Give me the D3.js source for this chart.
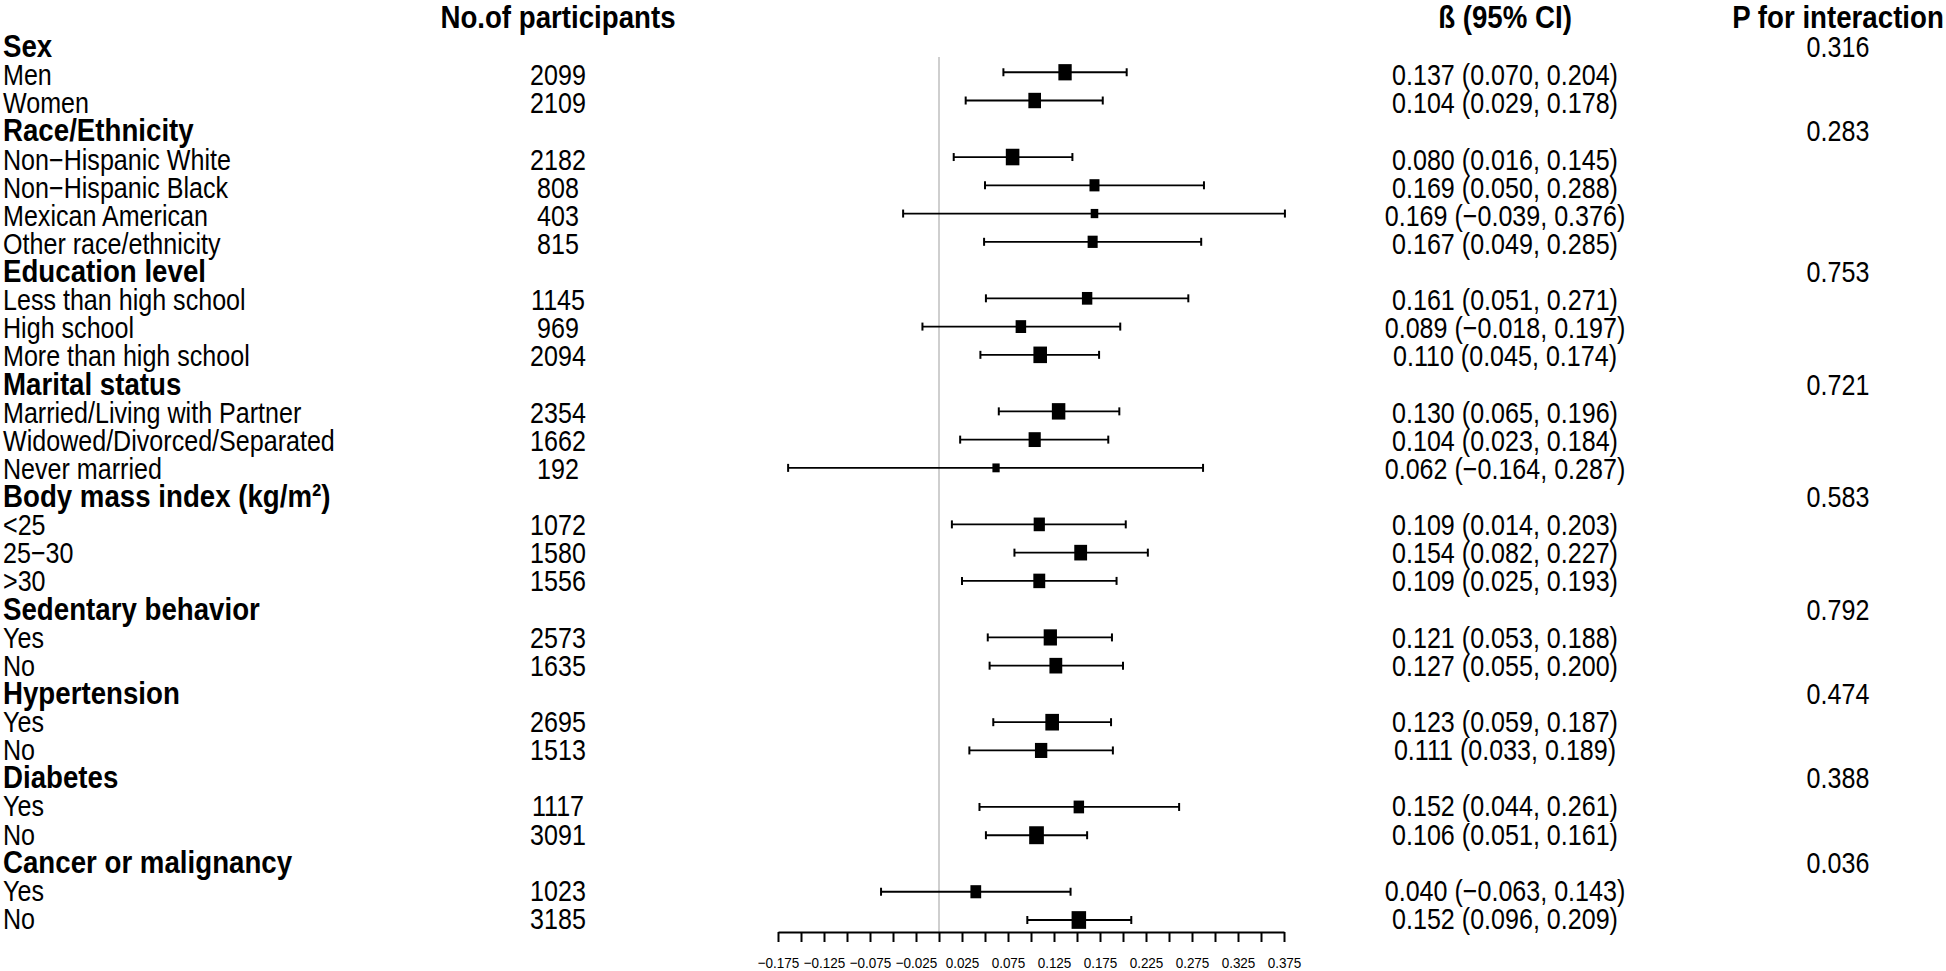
<!DOCTYPE html>
<html>
<head>
<meta charset="utf-8">
<script src="https://cdn.jsdelivr.net/npm/d3@7"></script>
<style>
  body { margin: 0; background: #fff; }
  svg text { font-family: "Liberation Sans", Arial, Helvetica, sans-serif; fill: #000; }
</style>
</head>
<body>
<div id="chart"></div>
<script>
// subgroup headers and their interaction p values
const groupNames = ["Sex", "Race/Ethnicity", "Education level", "Marital status",
  "Body mass index (kg/m²)", "Sedentary behavior", "Hypertension", "Diabetes", "Cancer or malignancy"];
const groupP = ["0.316", "0.283", "0.753", "0.721", "0.583", "0.792", "0.474", "0.388", "0.036"];

const subgroupLabels = [
  ["Men", "Women"],
  ["Non−Hispanic White", "Non−Hispanic Black", "Mexican American", "Other race/ethnicity"],
  ["Less than high school", "High school", "More than high school"],
  ["Married/Living with Partner", "Widowed/Divorced/Separated", "Never married"],
  ["<25", "25−30", ">30"],
  ["Yes", "No"],
  ["Yes", "No"],
  ["Yes", "No"],
  ["Yes", "No"]
];

// one value per subgroup row, in order
const participants = [2099, 2109, 2182, 808, 403, 815, 1145, 969, 2094, 2354, 1662, 192,
  1072, 1580, 1556, 2573, 1635, 2695, 1513, 1117, 3091, 1023, 3185];
const beta = [0.137, 0.104, 0.080, 0.169, 0.169, 0.167, 0.161, 0.089, 0.110, 0.130, 0.104, 0.062,
  0.109, 0.154, 0.109, 0.121, 0.127, 0.123, 0.111, 0.152, 0.106, 0.040, 0.152];
const lower = [0.070, 0.029, 0.016, 0.050, -0.039, 0.049, 0.051, -0.018, 0.045, 0.065, 0.023, -0.164,
  0.014, 0.082, 0.025, 0.053, 0.055, 0.059, 0.033, 0.044, 0.051, -0.063, 0.096];
const upper = [0.204, 0.178, 0.145, 0.288, 0.376, 0.285, 0.271, 0.197, 0.174, 0.196, 0.184, 0.287,
  0.203, 0.227, 0.193, 0.188, 0.200, 0.187, 0.189, 0.261, 0.161, 0.143, 0.209];

// x axis ticks (every other one gets a label)
const tickValues = [-0.175, -0.15, -0.125, -0.1, -0.075, -0.05, -0.025, 0, 0.025, 0.05, 0.075, 0.1,
  0.125, 0.15, 0.175, 0.2, 0.225, 0.25, 0.275, 0.3, 0.325, 0.35, 0.375];

const width = 1946;
const height = 971;
const sx = 0.865; // glyphs in the source are horizontally squeezed

// flatten into table rows
const rows = [];
let k = 0;
groupNames.forEach((g, gi) => {
  rows.push({ type: "group", label: g, p: groupP[gi] });
  subgroupLabels[gi].forEach(s => {
    rows.push({ type: "sub", label: s, n: participants[k], b: beta[k], lo: lower[k], hi: upper[k] });
    k++;
  });
});

const svg = d3.select("#chart")
  .append("svg")
  .attr("width", width)
  .attr("height", height);

const xScale = d3.scaleLinear().domain([-0.175, 0.375]).range([778, 1284]);
// mark centres and text baselines per row
const yScale = d3.scaleLinear().domain([0, rows.length - 1]).range([44, 920]);
const textY = d3.scaleLinear().domain([0, rows.length - 1]).range([57, 929]);

// box side follows sqrt of precision
const precision = rows.filter(r => r.type === "sub").map(r => 1 / (r.hi - r.lo));
const boxScale = d3.scaleSqrt().domain([0, d3.max(precision)]).range([0, 14.7]);

const fmt = d3.format(".3f");

function addText(x, y, str, opts) {
  return svg.append("text")
    .attr("transform", `translate(${x},${y}) scale(${sx},1)`)
    .attr("text-anchor", opts.anchor || "start")
    .style("font-size", opts.size + "px")
    .style("font-weight", opts.bold ? "bold" : "normal")
    .text(str);
}

// column headers
const headY = 28;
addText(558, headY, "No.of participants", { bold: true, size: 32, anchor: "middle" });
addText(1505, headY, "ß (95% CI)", { bold: true, size: 32, anchor: "middle" });
addText(1838, headY, "P for interaction", { bold: true, size: 32, anchor: "middle" });

// reference line at zero
svg.append("line")
  .attr("x1", xScale(0)).attr("x2", xScale(0))
  .attr("y1", 57).attr("y2", 932)
  .attr("stroke", "#cfcfcf")
  .attr("stroke-width", 2);

rows.forEach((r, i) => {
  const y = yScale(i);
  const base = textY(i);
  if (r.type === "group") {
    addText(3, base, r.label, { bold: true, size: 32 });
    addText(1838, base, r.p, { size: 29, anchor: "middle" });
  } else {
    addText(3, base, r.label, { size: 29 });
    addText(558, base, r.n, { size: 29, anchor: "middle" });
    addText(1505, base, `${fmt(r.b)} (${fmt(r.lo)}, ${fmt(r.hi)})`, { size: 29, anchor: "middle" });

    // CI whisker with end caps
    svg.append("line")
      .attr("x1", xScale(r.lo)).attr("x2", xScale(r.hi))
      .attr("y1", y).attr("y2", y)
      .attr("stroke", "#000").attr("stroke-width", 1.8);
    [r.lo, r.hi].forEach(v => {
      svg.append("line")
        .attr("x1", xScale(v)).attr("x2", xScale(v))
        .attr("y1", y - 4).attr("y2", y + 4)
        .attr("stroke", "#000").attr("stroke-width", 2);
    });

    const w = boxScale(1 / (r.hi - r.lo));
    const h = w * 1.22;
    svg.append("rect")
      .attr("x", xScale(r.b) - w / 2)
      .attr("y", y - h / 2)
      .attr("width", w)
      .attr("height", h)
      .attr("fill", "#000");
  }
});

// x axis
const axisG = svg.append("g")
  .attr("transform", "translate(0,932)")
  .call(d3.axisBottom(xScale)
    .tickValues(tickValues)
    .tickSize(10)
    .tickSizeOuter(0)
    .tickPadding(15)
    .tickFormat((d, i) => (i % 2 === 0 ? fmt(d) : "")));

axisG.select(".domain").attr("stroke", "#000").attr("stroke-width", 2);
axisG.selectAll(".tick line").attr("stroke", "#000").attr("stroke-width", 2);
axisG.selectAll(".tick text")
  .style("font-size", "15px")
  .attr("transform", "scale(0.9,1)");
</script>
</body>
</html>
